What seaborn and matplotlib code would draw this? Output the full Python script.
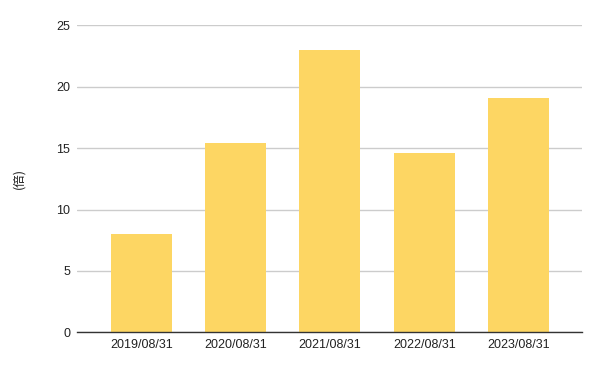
import matplotlib
matplotlib.use("Agg")
import matplotlib.pyplot as plt
import seaborn as sns
import pandas as pd

categories = ["2019/08/31", "2020/08/31", "2021/08/31", "2022/08/31", "2023/08/31"]
values = [8.0, 15.4, 23.0, 14.6, 19.1]
yticks = [0, 5, 10, 15, 20, 25]
ylabel = "(倍)"

sns.set_theme(style="white")
plt.rcParams['font.family'] = ['Liberation Sans', 'Noto Sans CJK JP', 'DejaVu Sans']

df = pd.DataFrame({"date": categories, "value": values})

fig = plt.figure(figsize=(6, 3.71), dpi=100)
ax = fig.add_axes([0.1283, 0.1043, 0.8417, 0.8275])
sns.barplot(data=df, x="date", y="value", color="#fdd663", saturation=1,
            width=0.647, ax=ax, zorder=2, linewidth=0)
ax.set_xlim(-0.684, 4.674)
ax.set_ylim(0, 25)
ax.set_yticks(yticks)
ax.yaxis.grid(True, color="#cccccc", linewidth=1, zorder=0)
ax.set_axisbelow(True)
for s in ["top", "right", "left"]:
    ax.spines[s].set_visible(False)
ax.spines["bottom"].set_color("#333333")
ax.spines["bottom"].set_linewidth(1)
ax.spines["bottom"].set_zorder(3)
ax.tick_params(axis="both", length=0, labelsize=9, colors="#222222")
ax.tick_params(axis="y", pad=5)
ax.tick_params(axis="x", pad=5)
ax.set_xlabel("")
ax.set_ylabel(ylabel, fontsize=9, color="#222222",
              family=['Noto Sans CJK JP', 'DejaVu Sans'])
ax.yaxis.set_label_coords(-0.103, 0.5)
fig.savefig("out.png", dpi=100, facecolor="white")
